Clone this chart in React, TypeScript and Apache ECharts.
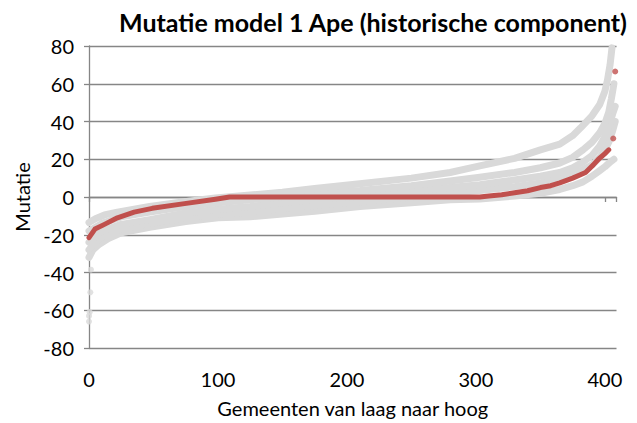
import React, { useEffect, useRef } from 'react';
import * as echarts from 'echarts';

const titleText = 'Mutatie model 1 Ape (historische component)';
const xName = 'Gemeenten van laag naar hoog';
const yName = 'Mutatie';
const xMin = 0;
const xMax = 409;
const xStep = 100;
const yMin = -80;
const yMax = 80;
const yStep = 20;

// gray simulated series (sorted)
const grayA = [
  [0, -13.5], [5, -11.5], [12, -9.5], [22, -8], [35, -6.5], [47, -5], [74, -2.5], [98, -0.5],
  [125, 1], [150, 2.5], [175, 4.5], [210, 7], [250, 10], [280, 13], [303, 16.5], [330, 20.5],
  [350, 25], [365, 28], [375, 32.5], [381, 36.5], [390, 43], [396, 49], [400, 56], [402, 62],
  [404, 70], [405.5, 79],
];
const grayB = [
  [0, -18], [5, -16], [10, -14], [25, -10.5], [47, -8], [75, -5], [100, -3], [125, -1.5],
  [150, 0], [175, 2], [210, 3.5], [250, 6], [280, 8.5], [303, 10.5], [330, 13], [350, 15.5],
  [365, 18], [375, 21], [383, 25], [390, 29], [396, 34], [400, 39], [403, 45], [405, 52], [407, 60],
];
const grayC = [
  [0, -24], [5, -21], [10, -18], [25, -14.5], [47, -12], [75, -8.5], [100, -6.5], [125, -5],
  [150, -3], [175, -1.5], [210, 0.5], [250, 3], [280, 5], [303, 6.5], [330, 9], [350, 11],
  [365, 13], [375, 15.5], [383, 18.5], [390, 22], [396, 27], [400, 32], [403, 37], [406, 44], [408, 48],
];
const grayE = [
  [0, -28], [5, -24], [10, -21], [25, -17], [47, -14], [75, -11], [100, -9], [125, -8],
  [150, -6], [175, -4.5], [210, -2.5], [250, 0], [280, 2], [303, 3.5], [330, 5.5], [350, 7.5],
  [365, 10], [375, 12], [383, 14.5], [390, 17], [396, 21], [400, 25], [403, 29], [406, 35], [408, 40],
];
const grayD = [
  [0, -32], [3, -28], [8, -25], [15, -22], [25, -19], [47, -16], [75, -13], [100, -11],
  [125, -10.5], [150, -9], [175, -7.5], [210, -5], [250, -3], [280, -1.5], [303, -1], [330, 0.5],
  [350, 2], [365, 4], [375, 6], [383, 8], [390, 11], [396, 14], [400, 16], [404, 18.5], [407, 20],
];
const grayOutliers = [
  [0, -66], [0, -63], [0.5, -61], [1, -50.5], [1.5, -38.5],
];
const redLine = [
  [0, -21.5], [4.6, -17], [12, -14.5], [22, -11], [35, -8], [49, -6], [74, -3.5], [98, -1.2],
  [109, 0], [200, 0], [303, 0], [310, 0.5], [320, 1.2], [330, 2.2], [340, 3.3], [350, 5],
  [358, 6], [365, 7.5], [375, 10], [385, 13], [391, 17], [395, 20], [400, 23], [403, 25],
];
const redOutliers = [
  [406.5, 31], [408, 66.5],
];

const FONT = 'Lato';
const AXIS_COLOR = '#868686';
const GRAY = '#d9d9d9';
const RED = '#c0504d';

export default function App() {
  const ref = useRef<HTMLDivElement>(null);
  useEffect(() => {
    const chart = echarts.init(ref.current!, null, { renderer: 'svg' });
    const grayLine = (data: number[][]) => ({
      type: 'line',
      data,
      xAxisIndex: 0,
      showSymbol: false,
      symbol: 'none',
      lineStyle: { color: GRAY, width: 7, cap: 'round', join: 'round' },
      silent: true,
      z: 2,
    });
    chart.setOption({
      animation: false,
      title: {
        text: titleText,
        left: 114,
        top: 4,
        textStyle: { fontFamily: FONT, fontWeight: 'bold', fontSize: 25, color: '#000' },
      },
      grid: { left: 89, right: 20.5, top: 46, bottom: 74, containLabel: false },
      xAxis: [
        {
          type: 'value',
          min: xMin,
          max: xMax,
          interval: xStep,
          position: 'bottom',
          axisLine: { show: false, onZero: false },
          axisTick: { show: false },
          splitLine: { show: false },
          axisLabel: { fontFamily: FONT, fontSize: 20, color: '#000', margin: 21, showMaxLabel: false },
          name: xName,
          nameLocation: 'middle',
          nameGap: 50,
          nameTextStyle: { fontFamily: FONT, fontSize: 20, color: '#000' },
        },
        {
          type: 'value',
          min: xMin,
          max: xMax,
          interval: xStep,
          position: 'top',
          axisLine: { show: true, onZero: true, lineStyle: { color: AXIS_COLOR, width: 1.3 } },
          axisTick: { show: true, inside: true, length: 5, lineStyle: { color: AXIS_COLOR, width: 1.3 } },
          axisLabel: { show: false },
          splitLine: { show: false },
        },
      ],
      yAxis: {
        type: 'value',
        min: yMin,
        max: yMax,
        interval: yStep,
        axisLine: { show: true, lineStyle: { color: AXIS_COLOR, width: 1.3 } },
        axisTick: { show: true, length: 5, lineStyle: { color: AXIS_COLOR, width: 1.3 } },
        splitLine: { show: true, lineStyle: { color: AXIS_COLOR, width: 1.3 } },
        axisLabel: { fontFamily: FONT, fontSize: 20, color: '#000', margin: 15 },
        name: yName,
        nameLocation: 'middle',
        nameGap: 56,
        nameRotate: 90,
        nameTextStyle: { fontFamily: FONT, fontSize: 20, color: '#000' },
      },
      series: [
        grayLine(grayD),
        grayLine(grayE),
        grayLine(grayC),
        grayLine(grayB),
        grayLine(grayA),
        {
          type: 'scatter',
          data: grayOutliers,
          symbol: 'circle',
          symbolSize: 6,
          itemStyle: { color: GRAY },
          z: 2,
        },
        {
          type: 'line',
          data: redLine,
          showSymbol: false,
          symbol: 'none',
          lineStyle: { color: RED, width: 5, cap: 'round', join: 'round' },
          z: 3,
        },
        {
          type: 'scatter',
          data: redOutliers,
          symbol: 'circle',
          symbolSize: 6,
          itemStyle: { color: RED },
          z: 3,
        },
      ],
    });
    return () => chart.dispose();
  }, []);
  return <div ref={ref} style={{ position: 'absolute', left: 0, top: 0, width: 637, height: 423 }} />;
}
